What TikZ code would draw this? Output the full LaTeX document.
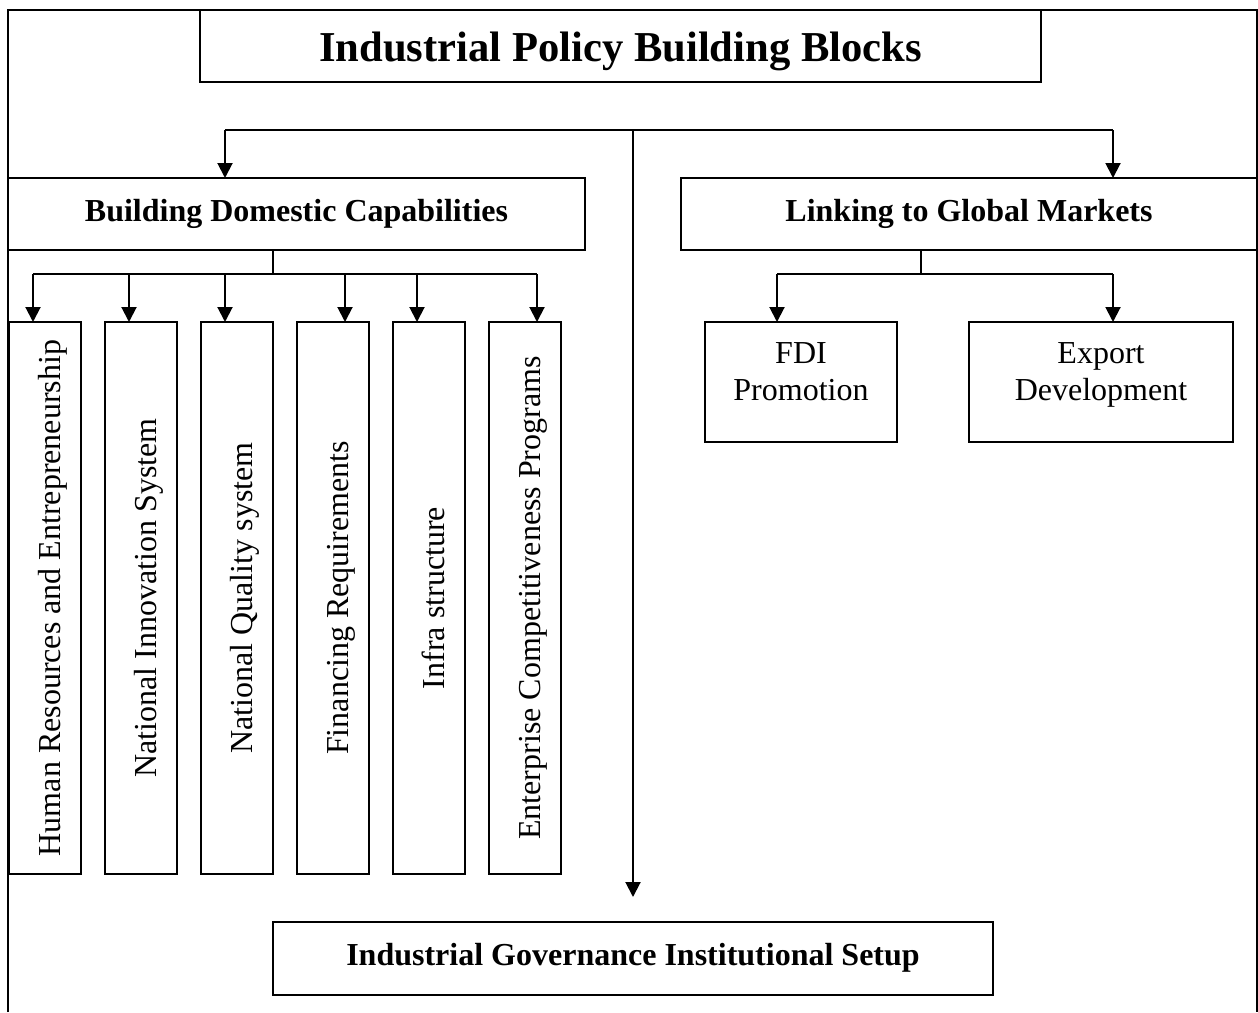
\documentclass[tikz,border=0pt]{standalone}
\usepackage{fontspec}
\setmainfont{Liberation Serif}
\usetikzlibrary{arrows.meta,calc}

\begin{document}
\begin{tikzpicture}[x=1pt,y=-1pt,
  line width=2pt,
  box/.style={draw, rectangle, inner sep=0pt, outer sep=0pt},
  vbox/.style={box, minimum width=72pt, minimum height=552pt},
  arr/.style={-{Triangle[width=15pt,length=15pt]}},
  txt/.style={font=\fontsize{32}{38}\selectfont, anchor=base, inner sep=0pt},
  btxt/.style={font=\fontsize{32}{38}\selectfont\bfseries, anchor=base, inner sep=0pt},
  vtxt/.style={txt, rotate=90}]
\useasboundingbox (0,0) rectangle (1258,1012);

% outer frame
\draw (8,1012) -- (8,10) -- (1257,10) -- (1257,1012);

% boxes
\node (title) [box, minimum width=841pt, minimum height=72pt] at (620.5,46) {};
\node (bdc) [box, minimum width=577pt, minimum height=72pt] at (296.5,214) {};
\node (lgm) [box, minimum width=576pt, minimum height=72pt] at (969,214) {};
\foreach \i/\cx in {1/45, 2/141, 3/237, 4/333, 5/429, 6/525}
  \node (v\i) [vbox] at (\cx,598) {};
\node (fdi) [box, minimum width=192pt, minimum height=120pt] at (801,382) {};
\node (exp) [box, minimum width=264pt, minimum height=120pt] at (1101,382) {};
\node (igi) [box, minimum width=720pt, minimum height=73pt] at (633,958.5) {};

% labels
\node[btxt, font=\fontsize{42.6}{50}\selectfont\bfseries] at ($(title.center)+(0,15.5)$) {Industrial Policy Building Blocks};
\node[btxt] at ($(bdc.center)+(0,7)$) {Building Domestic Capabilities};
\node[btxt] at ($(lgm.center)+(0,7)$) {Linking to Global Markets};
\node[btxt] at ($(igi.center)+(0,7)$) {Industrial Governance Institutional Setup};
\node[txt] at ($(fdi.center)+(0,-19)$) {FDI};
\node[txt] at ($(fdi.center)+(0,18.5)$) {Promotion};
\node[txt] at ($(exp.center)+(0,-19)$) {Export};
\node[txt] at ($(exp.center)+(0,18.5)$) {Development};
\node[vtxt] at ($(v1.west)+(51,0)$) {Human Resources and Entrepreneurship};
\node[vtxt] at ($(v2.west)+(51,0)$) {National Innovation System};
\node[vtxt] at ($(v3.west)+(51,0)$) {National Quality system};
\node[vtxt] at ($(v4.west)+(51,0)$) {Financing Requirements};
\node[vtxt] at ($(v5.west)+(51,0)$) {Infra structure};
\node[vtxt] at ($(v6.west)+(51,0)$) {Enterprise Competitiveness Programs};

% top distribution line
\coordinate (hubL) at (225,130);
\coordinate (hubM) at (633,130);
\coordinate (hubR) at (1113,130);
\draw (hubL) -- (hubR);
\draw[arr] (hubL) -- (hubL |- bdc.north);
\draw[arr] (hubR) -- (hubR |- lgm.north);
\draw[arr] (hubM) -- (633,897);

% domestic capabilities branches
\coordinate (bdcJ) at (bdc.south -| 273,0);
\coordinate (bdcH) at (273,274);
\draw (bdcJ) -- (bdcH);
\draw ($(v1.north)+(-12,-48)$) -- ($(v6.north)+(12,-48)$);
\foreach \i/\dx in {1/-12, 2/-12, 3/-12, 4/12, 5/-12, 6/12}
  \draw[arr] ($(v\i.north)+(\dx,-48)$) -- ($(v\i.north)+(\dx,0)$);

% global markets branches
\coordinate (lgmJ) at (lgm.south -| 921,0);
\coordinate (lgmH) at (921,274);
\draw (lgmJ) -- (lgmH);
\draw ($(fdi.north)+(-24,-48)$) -- ($(exp.north)+(12,-48)$);
\draw[arr] ($(fdi.north)+(-24,-48)$) -- ($(fdi.north)+(-24,0)$);
\draw[arr] ($(exp.north)+(12,-48)$) -- ($(exp.north)+(12,0)$);
\end{tikzpicture}
\end{document}
